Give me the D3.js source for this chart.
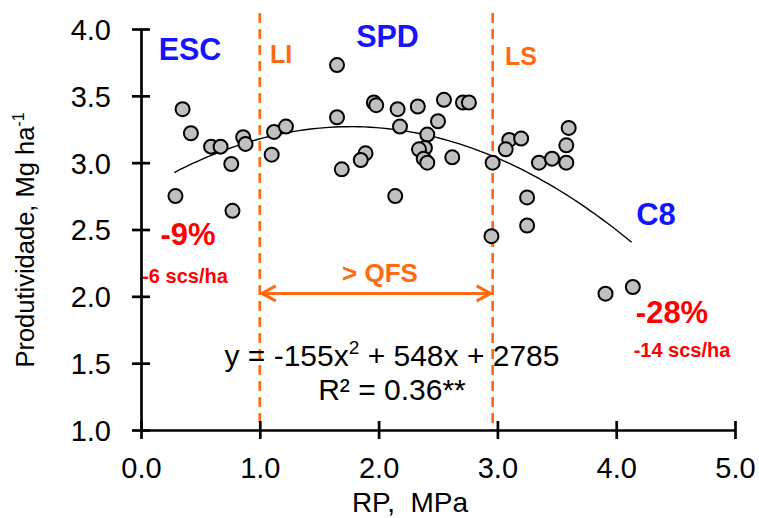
<!DOCTYPE html>
<html>
<head>
<meta charset="utf-8">
<script src="https://cdn.jsdelivr.net/npm/d3@7"></script>
<style>
	body { margin: 0; background: #fff; }
	svg text { font-family: "Liberation Sans", Arial, sans-serif; }
</style>
</head>
<body>
<div id="chart"></div>
<script>
// RP (MPa) e produtividade (Mg/ha)
const rp = [0.35, 0.42, 0.59, 0.67, 0.86, 0.88, 0.76, 0.29, 0.77, 1.12, 1.22, 1.10,
	1.65, 1.65, 1.96, 1.98, 2.16, 2.18, 2.33, 2.55, 2.71, 2.76, 2.50, 2.41, 2.39, 2.34,
	2.38, 2.41, 2.62, 1.89, 1.85, 1.69, 2.14, 2.96, 2.95,
	3.10, 3.20, 3.07, 3.60, 3.58, 3.35, 3.46, 3.58, 3.25, 3.25, 3.91, 4.14];
const produtividade = [3.40, 3.22, 3.12, 3.12, 3.19, 3.14, 2.99, 2.75, 2.64, 3.23, 3.27, 3.06,
	3.73, 3.34, 3.45, 3.43, 3.40, 3.27, 3.42, 3.47, 3.45, 3.45, 3.31, 3.21, 3.11, 3.10,
	3.03, 3.00, 3.04, 3.07, 3.02, 2.95, 2.75, 3.00, 2.45,
	3.17, 3.18, 3.10, 3.26, 3.13, 3.00, 3.03, 3.00, 2.74, 2.53, 2.02, 2.07];
const xTicks = [0, 1, 2, 3, 4, 5];
const yTicks = [1.0, 1.5, 2.0, 2.5, 3.0, 3.5, 4.0];
const coef = [-155, 548, 2785];      // y (kg/ha) = a x^2 + b x + c
const curveRange = [0.28, 4.15];
const limites = [1.0, 2.96];          // LI e LS

const width = 759, height = 518;
const margin = { left: 141, right: 24, top: 29, bottom: 88 };

const svg = d3.select('#chart').append('svg')
	.attr('width', width).attr('height', height);

const x = d3.scaleLinear().domain([0, 5]).range([margin.left, width - margin.right]);
const y = d3.scaleLinear().domain([1, 4]).range([height - margin.bottom, margin.top]);

const orange = '#ff6a13', blue = '#1414ff', red = '#ff0000';

// linhas tracejadas LI / LS
svg.selectAll('line.limite').data(limites).enter().append('line')
	.attr('class', 'limite')
	.attr('x1', d => x(d)).attr('x2', d => x(d))
	.attr('y1', y(4) - 16).attr('y2', y(1))
	.attr('stroke', orange).attr('stroke-width', 2.7)
	.attr('stroke-dasharray', '10,6');

// eixos
const xAxis = svg.append('g')
	.attr('transform', `translate(0, ${y(1)})`)
	.call(d3.axisBottom(x).tickValues(xTicks).tickFormat(d3.format('.1f')).tickSizeOuter(0));
const yAxis = svg.append('g')
	.attr('transform', `translate(${x(0)}, 0)`)
	.call(d3.axisLeft(y).tickValues(yTicks).tickFormat(d3.format('.1f')).tickSizeOuter(0));

[xAxis, yAxis].forEach(g => {
	g.select('.domain').attr('stroke', '#000').attr('stroke-width', 2.7);
	g.selectAll('.tick line').attr('stroke', '#000').attr('stroke-width', 2.7);
	g.selectAll('.tick text').attr('font-size', 29).attr('fill', '#000')
		.style('font-family', '"Liberation Sans", Arial, sans-serif');
});
xAxis.selectAll('.tick line').attr('y1', -9).attr('y2', 9);
xAxis.selectAll('.tick text').attr('y', 27).attr('dy', '0.71em');
yAxis.selectAll('.tick line').attr('x1', -9).attr('x2', 9);
yAxis.selectAll('.tick text').attr('x', -30).attr('dy', '0.36em');

// titulos dos eixos
svg.append('text')
	.attr('x', 410).attr('y', 512)
	.attr('text-anchor', 'middle').attr('font-size', 28)
	.attr('xml:space', 'preserve')
	.text('RP,  MPa');

const yTitle = svg.append('text')
	.attr('transform', `translate(34, 240) rotate(-90)`)
	.attr('text-anchor', 'middle').attr('font-size', 25.5);
yTitle.append('tspan').text('Produtividade, Mg ha');
yTitle.append('tspan').attr('font-size', 16).attr('dy', -10).text('-1');

// curva ajustada
const curveX = d3.range(curveRange[0], curveRange[1] + 0.001, 0.05);
const line = d3.line()
	.x(d => x(d))
	.y(d => y((coef[0] * d * d + coef[1] * d + coef[2]) / 1000));
svg.append('path')
	.attr('d', line(curveX))
	.attr('fill', 'none').attr('stroke', '#000').attr('stroke-width', 1.4);

// pontos
svg.selectAll('circle.ponto').data(d3.range(rp.length)).enter().append('circle')
	.attr('class', 'ponto')
	.attr('cx', i => x(rp[i])).attr('cy', i => y(produtividade[i]))
	.attr('r', 7)
	.attr('fill', '#c0c0c0').attr('stroke', '#000').attr('stroke-width', 2);

// seta > QFS
const ay = y(2.022);
const x0 = x(limites[0]) + 2, x1 = x(limites[1]) - 2;
const arrow = svg.append('g').attr('stroke', orange).attr('stroke-width', 3).attr('fill', 'none');
arrow.append('line').attr('x1', x0).attr('x2', x1).attr('y1', ay).attr('y2', ay);
arrow.append('path').attr('d', `M${x0 + 14},${ay - 7.5} L${x0},${ay} L${x0 + 14},${ay + 7.5}`);
arrow.append('path').attr('d', `M${x1 - 14},${ay - 7.5} L${x1},${ay} L${x1 - 14},${ay + 7.5}`);

// rotulos
function label(tx, ty, str, color, size) {
	svg.append('text')
		.attr('x', tx).attr('y', ty)
		.attr('text-anchor', 'middle')
		.attr('font-size', size).attr('font-weight', 'bold')
		.attr('fill', color).text(str);
}
label(190, 60, 'ESC', blue, 30.5);
label(281, 63, 'LI', orange, 25);
label(387.5, 47, 'SPD', blue, 30.5);
label(521, 65, 'LS', orange, 25);
label(656, 225, 'C8', blue, 31);
label(188, 245, '-9%', red, 31);
label(185, 283, '-6 scs/ha', red, 20);
label(672, 323, '-28%', red, 31);
label(682, 357, '-14 scs/ha', red, 20);
label(380, 282, '> QFS', orange, 26);

const eq = svg.append('text')
	.attr('x', 392).attr('y', 366)
	.attr('text-anchor', 'middle').attr('font-size', 30);
eq.append('tspan').text('y = ' + coef[0] + 'x');
eq.append('tspan').attr('font-size', 19).attr('dy', -12).text('2');
eq.append('tspan').attr('dy', 12).text(' + ' + coef[1] + 'x + ' + coef[2]);

svg.append('text')
	.attr('x', 392).attr('y', 400)
	.attr('text-anchor', 'middle').attr('font-size', 30)
	.text('R² = 0.36**');
</script>
</body>
</html>
